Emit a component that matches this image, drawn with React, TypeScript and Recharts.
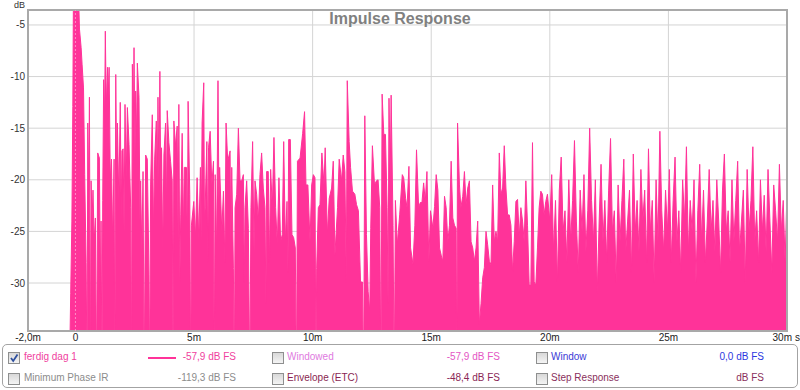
import React from 'react';
import {
  ComposedChart,
  Area,
  XAxis,
  YAxis,
  CartesianGrid,
  ReferenceLine,
  ReferenceArea,
} from 'recharts';

// ---- data: impulse response level (dB FS) vs time (ms) ----
const timeMs = [
  -2.0, -0.26, -0.2, -0.15, -0.11, -0.08, 0.0, 0.06, 0.13, 0.17,
  0.24, 0.28, 0.34, 0.39, 0.45, 0.49, 0.52, 0.56, 0.59, 0.63,
  0.66, 0.70, 0.74, 0.79, 0.84, 0.89, 0.94, 1.01, 1.05, 1.08,
  1.12, 1.15, 1.19, 1.23, 1.26, 1.30, 1.35, 1.38, 1.42, 1.47,
  1.52, 1.57, 1.63, 1.66, 1.70, 1.74, 1.77, 1.83, 1.89, 1.93,
  1.96, 2.01, 2.05, 2.09, 2.14, 2.19, 2.26, 2.33, 2.36, 2.40,
  2.44, 2.47, 2.51, 2.54, 2.58, 2.61, 2.68, 2.72, 2.75, 2.80,
  2.85, 2.90, 2.96, 3.03, 3.10, 3.13, 3.17, 3.24, 3.29, 3.34,
  3.41, 3.45, 3.48, 3.52, 3.56, 3.60, 3.63, 3.68, 3.73, 3.80,
  3.84, 3.87, 3.94, 4.01, 4.08, 4.12, 4.15, 4.22, 4.29, 4.33,
  4.36, 4.40, 4.44, 4.50, 4.55, 4.59, 4.68, 4.72, 4.75, 4.82,
  4.86, 4.89, 4.99, 5.06, 5.13, 5.20, 5.27, 5.30, 5.34, 5.41,
  5.44, 5.47, 5.54, 5.58, 5.61, 5.68, 5.75, 5.82, 5.85, 5.89,
  5.95, 6.01, 6.05, 6.08, 6.17, 6.24, 6.30, 6.35, 6.42, 6.52,
  6.55, 6.59, 6.66, 6.70, 6.73, 6.80, 6.87, 6.94, 7.01, 7.08,
  7.12, 7.15, 7.22, 7.29, 7.35, 7.40, 7.47, 7.53, 7.57, 7.64,
  7.71, 7.78, 7.85, 7.92, 7.99, 8.03, 8.06, 8.13, 8.18, 8.23,
  8.30, 8.37, 8.44, 8.51, 8.58, 8.65, 8.72, 8.78, 8.85, 8.92,
  8.96, 8.99, 9.06, 9.13, 9.20, 9.27, 9.32, 9.36, 9.47, 9.58,
  9.66, 9.72, 9.80, 9.89, 9.96, 10.03, 10.10, 10.14, 10.17, 10.24,
  10.31, 10.39, 10.48, 10.53, 10.62, 10.70, 10.80, 10.87, 10.94, 11.05,
  11.12, 11.22, 11.29, 11.36, 11.42, 11.46, 11.54, 11.60, 11.68, 11.78,
  11.85, 11.93, 12.02, 12.10, 12.15, 12.20, 12.27, 12.34, 12.41, 12.45,
  12.52, 12.61, 12.69, 12.76, 12.83, 12.88, 12.93, 13.00, 13.07, 13.14,
  13.18, 13.22, 13.27, 13.31, 13.39, 13.44, 13.49, 13.57, 13.67, 13.78,
  13.84, 13.92, 13.98, 14.06, 14.13, 14.23, 14.31, 14.38, 14.47, 14.54,
  14.61, 14.68, 14.75, 14.82, 14.90, 14.97, 15.07, 15.14, 15.21, 15.28,
  15.35, 15.42, 15.49, 15.56, 15.63, 15.70, 15.77, 15.84, 15.91, 15.98,
  16.05, 16.08, 16.11, 16.19, 16.25, 16.33, 16.40, 16.47, 16.54, 16.61,
  16.68, 16.75, 16.82, 16.89, 16.96, 17.03, 17.10, 17.17, 17.24, 17.31,
  17.38, 17.45, 17.52, 17.59, 17.66, 17.73, 17.80, 17.87, 17.94, 18.01,
  18.08, 18.15, 18.22, 18.29, 18.36, 18.43, 18.50, 18.57, 18.64, 18.71,
  18.78, 18.85, 18.92, 18.99, 19.06, 19.13, 19.20, 19.27, 19.34, 19.41,
  19.48, 19.55, 19.62, 19.69, 19.76, 19.83, 19.90, 20.00, 20.08, 20.16,
  20.24, 20.32, 20.40, 20.48, 20.56, 20.64, 20.72, 20.80, 20.88, 20.96,
  21.04, 21.12, 21.20, 21.28, 21.36, 21.44, 21.52, 21.60, 21.68, 21.76,
  21.84, 21.92, 22.00, 22.08, 22.16, 22.24, 22.32, 22.40, 22.48, 22.56,
  22.64, 22.72, 22.80, 22.88, 22.96, 23.04, 23.12, 23.20, 23.28, 23.36,
  23.44, 23.52, 23.60, 23.68, 23.76, 23.84, 23.92, 24.00, 24.08, 24.16,
  24.24, 24.32, 24.40, 24.48, 24.56, 24.64, 24.72, 24.80, 24.88, 24.96,
  25.04, 25.12, 25.20, 25.28, 25.36, 25.44, 25.52, 25.60, 25.68, 25.76,
  25.84, 25.92, 26.00, 26.08, 26.16, 26.24, 26.32, 26.40, 26.48, 26.56,
  26.64, 26.72, 26.80, 26.88, 26.96, 27.04, 27.12, 27.20, 27.28, 27.36,
  27.44, 27.52, 27.60, 27.68, 27.76, 27.84, 27.92, 28.00, 28.08, 28.16,
  28.24, 28.32, 28.40, 28.48, 28.56, 28.64, 28.72, 28.80, 28.88, 28.96,
  29.04, 29.12, 29.20, 29.28, 29.36, 29.44, 29.52, 29.60, 29.68, 29.76,
  29.84, 29.92, 30.00,
];

const levelDb = [
  -40, -40, -31, -24, -12.9, 0, 0, 0, -2, -5.4,
  -7.2, -8.8, -11.1, -19.5, -28, -40, -14.5, -21, -12, -40,
  -20.1, -24, -21, -26, -23.7, -40, -17.4, -17.9, -31, -24,
  -40, -22, -10.3, -14, -5.6, -13, -9.1, -12, -9.1, -20,
  -18, -26, -18, -40, -9.8, -20, -14.5, -22, -12.5, -24,
  -17.2, -17, -25, -12.7, -20, -13, -16.6, -22.7, -40, -8.8,
  -15, -7.2, -18, -11.4, -16, -8.7, -12, -24, -20.1, -27,
  -19.2, -40, -17.6, -18, -29.2, -40, -20.5, -13.7, -25, -18,
  -14.3, -21, -12, -20, -9.5, -22, -16.9, -27, -17.6, -14.5,
  -23, -13.3, -16.4, -18.2, -20.1, -40, -14.3, -16.7, -14.8, -26,
  -12.7, -30, -23.4, -15.5, -25, -18.8, -18.8, -27, -12.4, -21.4,
  -40, -24.4, -22.1, -25.6, -19.8, -25.9, -18.8, -26, -14.5, -10.6,
  -24, -22.7, -16.3, -28, -16.9, -15.3, -20.5, -18.2, -40, -19.5,
  -27, -10.4, -22, -18.8, -25, -21.1, -28, -14.5, -18.2, -17.2,
  -26, -18.8, -28.6, -40, -22.7, -21.4, -15, -20.1, -20.1, -19.5,
  -30, -22.7, -20.1, -24.7, -40, -22.7, -16.3, -27, -20.1, -21.4,
  -24, -19.5, -17.4, -20.8, -22.7, -32, -19.2, -19.2, -28, -19,
  -22.7, -15.9, -22.7, -26.3, -19.8, -26, -25.3, -16.3, -26, -22.1,
  -29, -16.1, -16.1, -25.3, -25.6, -26.6, -40, -18.2, -17.9, -15.5,
  -13.4, -20.5, -20.5, -26, -20.5, -19.5, -19.8, -40, -28.6, -22.7,
  -22.4, -17.4, -20.5, -16.9, -25.3, -21.8, -20.8, -18.2, -27.3, -22.7,
  -18, -20.1, -17.6, -19.2, -30, -10.4, -16.3, -18.8, -21.1, -21.4,
  -22.4, -23, -29.9, -29.9, -40, -13.8, -25.3, -30.8, -32.8, -24.7,
  -16.7, -20.5, -20.1, -20, -22.7, -40, -11.7, -15.6, -15.6, -22.7,
  -32, -12.1, -20, -11.8, -24.4, -40, -22, -26.3, -23.4, -19.5,
  -19.8, -21.8, -22.7, -18.7, -26.6, -28.2, -24.4, -17.1, -22.7, -22.2,
  -22.2, -20.3, -22.1, -19.2, -27.9, -23, -24.7, -22.6, -19.5, -21,
  -26.6, -27.3, -27.9, -21.6, -22.7, -26, -24.4, -18.2, -23.7, -24.4,
  -24.7, -40, -14.5, -20.5, -22.7, -21.6, -19.2, -22.4, -20.8, -20.1,
  -26, -26.6, -27.9, -26.6, -24, -34, -32, -29.5, -28.5, -25,
  -26.3, -27.9, -28.2, -20.5, -26, -25, -26, -17.4, -21.4, -20.8,
  -16.7, -20.8, -23.4, -23.4, -24.4, -28.9, -26, -22.1, -21.9, -25.6,
  -22.7, -24, -26, -20.1, -24.4, -30.2, -30.2, -16.4, -29.9, -30.2,
  -26.6, -22.7, -21.1, -21.4, -23.4, -22.1, -21.4, -24, -19.5, -27,
  -22, -30, -21, -17.8, -25, -23, -28, -20, -26, -22,
  -16.2, -24, -29, -21, -25, -19.5, -27, -23, -15.0, -22,
  -26, -20, -31, -24, -18.5, -26, -22, -28, -21, -16.0,
  -25, -23, -30, -20.5, -26, -22, -18, -27, -24, -21,
  -29, -17.5, -25, -22, -27, -19, -24, -21, -28, -17.0,
  -25, -22, -30, -20, -26, -15.3, -23, -27, -21, -25,
  -19, -28, -22, -17.8, -26, -23, -29, -20, -24, -16.8,
  -27, -22, -25, -20, -30, -23, -18.5, -26, -21, -28,
  -24, -19, -25, -22, -27, -20, -24, -29, -21, -17.5,
  -25, -23, -28, -20, -26, -22, -18.2, -27, -24, -21,
  -30, -19, -25, -22, -16.8, -26, -23, -28, -20, -25,
  -21.5, -27, -19, -24, -29, -20.5, -23, -26, -18.5, -25,
  -22, -28, -21,
];

const xTicks = [-2, 0, 5, 10, 15, 20, 25, 30];
const xTickLabels = ['-2,0m', '0', '5m', '10m', '15m', '20m', '25m', '30m'];
const yTicks = [-30, -25, -20, -15, -10, -5];
const yTickLabels = ['-30', '-25', '-20', '-15', '-10', '-5'];
const xDomain: [number, number] = [-2, 30];
const yDomain: [number, number] = [-34.65, -3.55];

// legend rows (REW style control panel)
const legendNames = ['ferdig dag 1', 'Windowed', 'Window', 'Minimum Phase IR', 'Envelope (ETC)', 'Step Response'];
const legendValues = ['-57,9 dB FS', '-57,9 dB FS', '0,0 dB FS', '-119,3 dB FS', '-48,4 dB FS', 'dB FS'];
const legendNameColors = ['#f0419e', '#e07ae0', '#3a3ad6', '#8c8c8c', '#8a1f52', '#8a2f5c'];
const legendValueColors = ['#f0419e', '#e456c4', '#2b38e0', '#8c8c8c', '#8a2656', '#8a2f5c'];
const legendChecked = [true, false, false, false, false, false];

const data = timeMs.map((t, i) => ({ t, db: levelDb[i] }));

const FONT = '"Liberation Sans", Arial, Helvetica, sans-serif';
const LINE_COLOR = '#ff3399';

const XTick = (props: any) => {
  const { x, y, payload } = props;
  const idx = xTicks.indexOf(payload.value);
  const label = idx >= 0 ? xTickLabels[idx] : String(payload.value);
  const isLast = idx === xTicks.length - 1;
  if (isLast) {
    return (
      <g>
        <text x={x + 5} y={y + 8} textAnchor="end" fontSize={10} fill="#222" fontFamily={FONT}>
          {label}
        </text>
        <text x={x + 8} y={y + 8} textAnchor="start" fontSize={10} fill="#222" fontFamily={FONT}>
          s
        </text>
      </g>
    );
  }
  return (
    <text x={x} y={y + 8} textAnchor="middle" fontSize={10} fill="#222" fontFamily={FONT}>
      {label}
    </text>
  );
};

const YTick = (props: any) => {
  const { x, y, payload } = props;
  const idx = yTicks.indexOf(payload.value);
  const label = idx >= 0 ? yTickLabels[idx] : String(payload.value);
  return (
    <text x={x} y={y + 3.5} textAnchor="end" fontSize={10} fill="#333" fontFamily={FONT}>
      {label}
    </text>
  );
};

const CheckBox = ({ checked, left, top }: { checked: boolean; left: number; top: number }) => (
  <div
    style={{
      position: 'absolute',
      left,
      top,
      width: 10,
      height: 10,
      border: '1px solid #8e8f8f',
      background: 'linear-gradient(#d8d8d8, #f4f4f4)',
      boxSizing: 'content-box',
    }}
  >
    {checked && (
      <svg width={10} height={10} style={{ position: 'absolute', left: 0, top: 0 }}>
        <path d="M2 5 L4.2 8 L8.5 1.5" stroke="#2d4f9e" strokeWidth={1.8} fill="none" />
      </svg>
    )}
  </div>
);

const colCheckX = [8, 272, 536];
const colLabelX = [24, 287, 551];
const colValueRight = [236, 500, 764];
const rowTop = [351, 372];

export default function App() {
  return (
    <div style={{ position: 'absolute', left: 0, top: 0, width: 800, height: 390, background: '#fff', fontFamily: FONT }}>
      <div style={{ position: 'absolute', left: 0, top: 0 }}>
        <ComposedChart width={800} height={390} data={data} margin={{ top: 10, right: 13, bottom: 43, left: 0 }}>
          <CartesianGrid stroke="#d4d4d4" strokeWidth={1} />
          <XAxis
            dataKey="t"
            type="number"
            domain={xDomain}
            ticks={xTicks}
            allowDataOverflow
            interval={0}
            height={16}
            tickSize={0}
            tickMargin={2}
            axisLine={false}
            tickLine={false}
            tick={<XTick />}
          />
          <YAxis
            type="number"
            domain={yDomain}
            ticks={yTicks}
            allowDataOverflow
            interval={0}
            width={28}
            tickSize={0}
            tickMargin={3}
            axisLine={false}
            tickLine={false}
            tick={<YTick />}
          />
          <Area
            type="linear"
            dataKey="db"
            stroke={LINE_COLOR}
            strokeWidth={1}
            fill={LINE_COLOR}
            fillOpacity={1}
            baseValue={-40}
            dot={false}
            activeDot={false}
            isAnimationActive={false}
          />
          <ReferenceLine x={0} stroke="#ff8cc6" strokeWidth={1} strokeDasharray="2 2" />
          <ReferenceArea
            x1={xDomain[0]}
            x2={xDomain[1]}
            y1={yDomain[0]}
            y2={yDomain[1]}
            fill="none"
            fillOpacity={0}
            stroke="#a9a9a9"
            strokeWidth={2}
          />
        </ComposedChart>
      </div>

      {/* y unit */}
      <div style={{ position: 'absolute', left: 14, top: 0, fontSize: 9, color: '#333', lineHeight: '10px' }}>dB</div>

      {/* title */}
      <div
        style={{
          position: 'absolute',
          left: 0,
          top: 11,
          width: 800,
          textAlign: 'center',
          fontSize: 16,
          fontWeight: 'bold',
          color: '#808080',
          lineHeight: '16px',
        }}
      >
        Impulse Response
      </div>

      {/* legend panel */}
      <div
        style={{
          position: 'absolute',
          left: 2,
          top: 344,
          width: 794,
          height: 42,
          border: '1px solid #a3a3a3',
          borderRadius: 5,
          boxSizing: 'content-box',
        }}
      />
      {legendNames.map((name, i) => {
        const col = i % 3;
        const row = Math.floor(i / 3);
        return (
          <React.Fragment key={name}>
            <CheckBox checked={legendChecked[i]} left={colCheckX[col]} top={rowTop[row] + 1} />
            <div
              style={{
                position: 'absolute',
                left: colLabelX[col],
                top: rowTop[row],
                fontSize: 10,
                lineHeight: '12px',
                color: legendNameColors[i],
                whiteSpace: 'nowrap',
              }}
            >
              {name}
            </div>
            <div
              style={{
                position: 'absolute',
                right: 800 - colValueRight[col],
                top: rowTop[row],
                fontSize: 10,
                lineHeight: '12px',
                color: legendValueColors[i],
                whiteSpace: 'nowrap',
                textAlign: 'right',
              }}
            >
              {legendValues[i]}
            </div>
          </React.Fragment>
        );
      })}
      {/* line sample for the active measurement */}
      <div style={{ position: 'absolute', left: 148, top: 357, width: 28, height: 2, background: LINE_COLOR }} />
    </div>
  );
}
